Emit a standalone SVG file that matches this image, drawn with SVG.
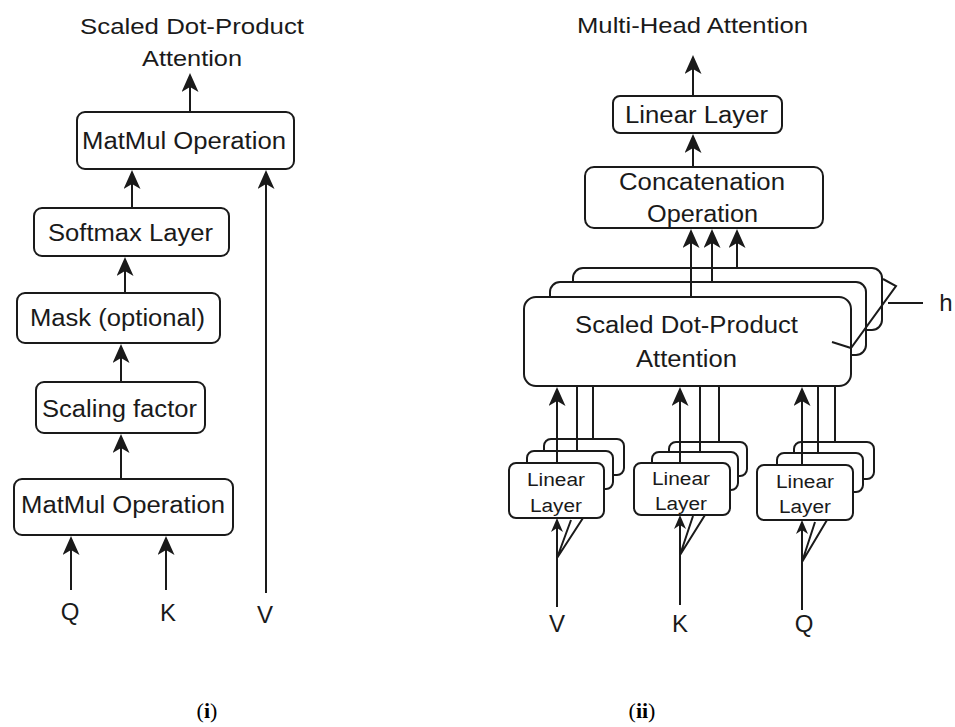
<svg xmlns="http://www.w3.org/2000/svg" width="955" height="727" viewBox="0 0 955 727">
<style>
.box{fill:#fff;stroke:#1a1a1a;stroke-width:2}
.ln{fill:none;stroke:#1a1a1a;stroke-width:2}
.ar{fill:none;stroke:#1a1a1a;stroke-width:2;marker-end:url(#big)}
.as{fill:none;stroke:#1a1a1a;stroke-width:2;marker-end:url(#small)}
text{font-family:"Liberation Sans",Arial,sans-serif;fill:#1a1a1a;text-anchor:middle}
.t22{font-size:22px}
.t23{font-size:23px}
.t18{font-size:18px}
.t24{font-size:24px}
.cap{font-family:"Liberation Serif","Times New Roman",serif;font-size:22px;fill:#000}
</style>
<defs>
<marker id="big" markerUnits="userSpaceOnUse" viewBox="0 0 19 17" markerWidth="19" markerHeight="17" refX="11" refY="8.5" orient="auto">
<path d="M0,0 L19,8.5 L0,17 L5,8.5 z" fill="#1a1a1a"/>
</marker>
<marker id="small" markerUnits="userSpaceOnUse" viewBox="0 0 14 12" markerWidth="14" markerHeight="12" refX="7" refY="6" orient="auto">
<path d="M0,0 L14,6 L0,12 L4,6 z" fill="#1a1a1a"/>
</marker>
</defs>

<!-- Panel (i) -->
<g id="title-i">
<text class="t22" x="192" y="34" textLength="224" lengthAdjust="spacingAndGlyphs">Scaled Dot-Product</text>
<text class="t22" x="192" y="66" textLength="100" lengthAdjust="spacingAndGlyphs">Attention</text>
</g>
<g id="matmul-top">
<rect class="box" x="77" y="112" width="217" height="57" rx="8"/>
<text class="t23" x="184" y="149" textLength="204" lengthAdjust="spacingAndGlyphs">MatMul Operation</text>
</g>
<g id="softmax">
<rect class="box" x="34" y="208" width="195" height="48" rx="8"/>
<text class="t23" x="130.5" y="241" textLength="165" lengthAdjust="spacingAndGlyphs">Softmax Layer</text>
</g>
<g id="mask">
<rect class="box" x="17" y="293" width="203" height="50" rx="8"/>
<text class="t23" x="117.5" y="326" textLength="175" lengthAdjust="spacingAndGlyphs">Mask (optional)</text>
</g>
<g id="scaling">
<rect class="box" x="36" y="382" width="169" height="51" rx="8"/>
<text class="t23" x="119.5" y="417" textLength="155" lengthAdjust="spacingAndGlyphs">Scaling factor</text>
</g>
<g id="matmul-bottom">
<rect class="box" x="14" y="479" width="219" height="56" rx="8"/>
<text class="t23" x="123" y="513" textLength="204" lengthAdjust="spacingAndGlyphs">MatMul Operation</text>
</g>
<g id="inputs-i">
<text class="t24" x="70" y="620">Q</text>
<text class="t24" x="168" y="621">K</text>
<text class="t24" x="265" y="623">V</text>
</g>

<!-- Panel (ii) -->
<g id="title-ii">
<text class="t22" x="692.5" y="33" textLength="231" lengthAdjust="spacingAndGlyphs">Multi-Head Attention</text>
</g>
<g id="linear-out">
<rect class="box" x="613" y="96" width="169" height="37" rx="7"/>
<text class="t23" x="696.5" y="123" textLength="143" lengthAdjust="spacingAndGlyphs">Linear Layer</text>
</g>
<g id="concat">
<rect class="box" x="585" y="167" width="238" height="61" rx="9"/>
<text class="t23" x="702" y="190" textLength="166" lengthAdjust="spacingAndGlyphs">Concatenation</text>
<text class="t23" x="702.5" y="222" textLength="111" lengthAdjust="spacingAndGlyphs">Operation</text>
</g>
<g id="sdpa-stack">
<rect class="box" x="573" y="268" width="309" height="62" rx="10"/>
<rect class="box" x="550" y="282" width="316" height="73" rx="10"/>
<rect class="box" x="524" y="297" width="327" height="89" rx="12"/>
<text class="t23" x="686.5" y="333" textLength="223" lengthAdjust="spacingAndGlyphs">Scaled Dot-Product</text>
<text class="t23" x="686.5" y="367" textLength="101" lengthAdjust="spacingAndGlyphs">Attention</text>
</g>
<g id="linear-v">
<rect class="box" x="544" y="439" width="80" height="36" rx="7"/>
<rect class="box" x="527" y="451" width="86" height="38" rx="7"/>
<rect class="box" x="509" y="463" width="95" height="55" rx="7"/>
<text class="t18" x="556" y="486" textLength="58" lengthAdjust="spacingAndGlyphs">Linear</text>
<text class="t18" x="556" y="512" textLength="52" lengthAdjust="spacingAndGlyphs">Layer</text>
</g>
<g id="linear-k">
<rect class="box" x="669" y="442" width="78" height="34" rx="7"/>
<rect class="box" x="652" y="452" width="86" height="38" rx="7"/>
<rect class="box" x="634" y="463" width="96" height="52" rx="7"/>
<text class="t18" x="681" y="485" textLength="58" lengthAdjust="spacingAndGlyphs">Linear</text>
<text class="t18" x="681" y="510" textLength="52" lengthAdjust="spacingAndGlyphs">Layer</text>
</g>
<g id="linear-q">
<rect class="box" x="794" y="442" width="80" height="37" rx="7"/>
<rect class="box" x="777" y="453" width="86" height="39" rx="7"/>
<rect class="box" x="757" y="465" width="96" height="55" rx="7"/>
<text class="t18" x="805" y="488" textLength="58" lengthAdjust="spacingAndGlyphs">Linear</text>
<text class="t18" x="805" y="513" textLength="52" lengthAdjust="spacingAndGlyphs">Layer</text>
</g>
<g id="inputs-ii">
<text class="t24" x="557" y="632">V</text>
<text class="t24" x="680" y="632">K</text>
<text class="t24" x="804" y="632">Q</text>
</g>
<g id="heads-h">
<polyline class="ln" points="832,342 851,348 896,286 883,279"/>
<line class="ln" x1="888" y1="303" x2="923" y2="303"/>
<text class="t24" x="946" y="311">h</text>
</g>

<g id="connectors">
<!-- panel (i) -->
<line class="ar" x1="190" y1="112" x2="190" y2="81"/>
<line class="ar" x1="132" y1="208" x2="132" y2="178"/>
<line class="ar" x1="266" y1="593" x2="266" y2="178"/>
<line class="ar" x1="125" y1="293" x2="125" y2="265"/>
<line class="ar" x1="121" y1="382" x2="121" y2="352"/>
<line class="ar" x1="121" y1="479" x2="121" y2="442"/>
<line class="ar" x1="71" y1="590" x2="71" y2="544"/>
<line class="ar" x1="166" y1="590" x2="166" y2="544"/>
<!-- panel (ii) -->
<line class="ar" x1="693" y1="96" x2="693" y2="63"/>
<line class="ar" x1="693" y1="167" x2="693" y2="142"/>
<line class="ar" x1="691" y1="297" x2="691" y2="237"/>
<line class="ar" x1="712" y1="282" x2="712" y2="237"/>
<line class="ar" x1="737" y1="268" x2="737" y2="237"/>
<line class="ar" x1="557" y1="463" x2="557" y2="395"/>
<line class="ln" x1="577" y1="451" x2="577" y2="386"/>
<line class="ln" x1="593" y1="439" x2="593" y2="386"/>
<line class="ar" x1="680" y1="463" x2="680" y2="395"/>
<line class="ln" x1="700" y1="452" x2="700" y2="386"/>
<line class="ln" x1="719" y1="442" x2="719" y2="386"/>
<line class="ar" x1="802" y1="465" x2="802" y2="395"/>
<line class="ln" x1="818" y1="453" x2="818" y2="386"/>
<line class="ln" x1="835" y1="442" x2="835" y2="386"/>
<polyline class="ln" points="571,520 557,558 583,518"/>
<line class="as" x1="557" y1="607" x2="557" y2="525"/>
<polyline class="ln" points="693,516 680,555 705,515"/>
<line class="as" x1="680" y1="605" x2="680" y2="522"/>
<polyline class="ln" points="815,522 802,562 827,520"/>
<line class="as" x1="802" y1="610" x2="802" y2="527"/>
</g>

<g id="captions">
<text class="cap" x="207" y="718">(<tspan font-weight="bold">i</tspan>)</text>
<text class="cap" x="642" y="718">(<tspan font-weight="bold">ii</tspan>)</text>
</g>
</svg>
